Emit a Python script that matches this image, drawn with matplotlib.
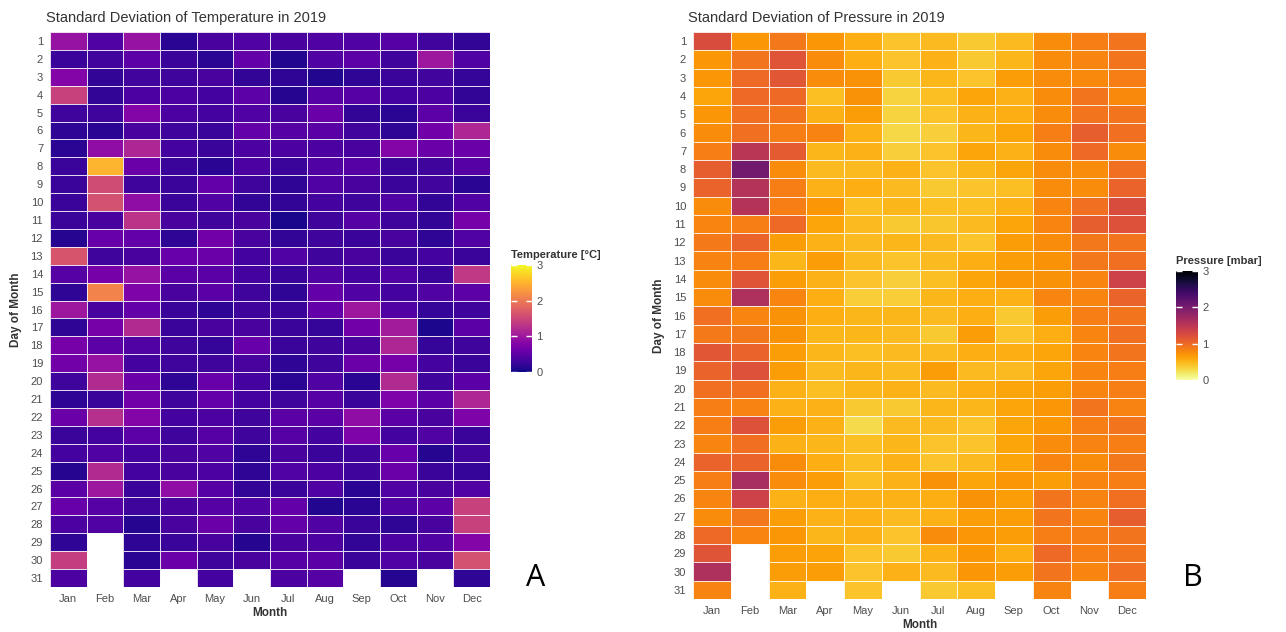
import numpy as np
import matplotlib
matplotlib.use("Agg")
import matplotlib.pyplot as plt

plt.rcParams['font.family'] = ['Liberation Sans', 'DejaVu Sans']

months = ['Jan', 'Feb', 'Mar', 'Apr', 'May', 'Jun', 'Jul', 'Aug', 'Sep', 'Oct', 'Nov', 'Dec']
days = list(range(1, 32))
nan = np.nan

# std dev of temperature [°C], one row per day of month (Jan..Dec)
temp_sd = [
    [0.95, 0.40, 0.95, 0.15, 0.35, 0.40, 0.35, 0.40, 0.40, 0.45, 0.30, 0.20],
    [0.25, 0.30, 0.50, 0.25, 0.15, 0.55, 0.10, 0.40, 0.50, 0.28, 1.00, 0.40],
    [0.80, 0.20, 0.30, 0.28, 0.35, 0.20, 0.18, 0.10, 0.18, 0.25, 0.30, 0.22],
    [1.45, 0.20, 0.38, 0.38, 0.32, 0.50, 0.12, 0.45, 0.45, 0.32, 0.38, 0.20],
    [0.28, 0.28, 0.80, 0.38, 0.32, 0.40, 0.35, 0.60, 0.20, 0.15, 0.50, 0.25],
    [0.18, 0.15, 0.35, 0.28, 0.25, 0.55, 0.45, 0.48, 0.30, 0.18, 0.65, 1.15],
    [0.15, 0.90, 1.15, 0.32, 0.25, 0.38, 0.38, 0.38, 0.35, 0.80, 0.60, 0.60],
    [0.25, 2.50, 0.60, 0.25, 0.15, 0.38, 0.25, 0.42, 0.45, 0.25, 0.28, 0.45],
    [0.25, 1.55, 0.28, 0.25, 0.55, 0.28, 0.18, 0.40, 0.35, 0.25, 0.30, 0.15],
    [0.25, 1.60, 0.90, 0.25, 0.40, 0.20, 0.20, 0.32, 0.28, 0.42, 0.20, 0.40],
    [0.25, 0.35, 1.30, 0.35, 0.28, 0.35, 0.05, 0.28, 0.45, 0.28, 0.20, 0.70],
    [0.12, 0.58, 0.55, 0.18, 0.65, 0.35, 0.20, 0.28, 0.25, 0.35, 0.18, 0.40],
    [1.65, 0.28, 0.35, 0.58, 0.60, 0.32, 0.40, 0.28, 0.35, 0.25, 0.32, 0.25],
    [0.45, 0.70, 0.95, 0.48, 0.48, 0.32, 0.25, 0.40, 0.32, 0.40, 0.25, 1.35],
    [0.18, 2.10, 0.75, 0.35, 0.48, 0.28, 0.18, 0.55, 0.42, 0.32, 0.40, 0.50],
    [1.00, 0.35, 0.55, 0.25, 0.18, 0.28, 0.25, 0.55, 1.00, 0.40, 0.22, 0.28],
    [0.18, 0.70, 1.20, 0.25, 0.35, 0.35, 0.25, 0.22, 0.65, 1.05, 0.08, 0.48],
    [0.70, 0.50, 0.42, 0.28, 0.22, 0.58, 0.25, 0.28, 0.35, 1.15, 0.22, 0.28],
    [0.65, 0.95, 0.32, 0.28, 0.28, 0.35, 0.18, 0.28, 0.60, 0.70, 0.32, 0.25],
    [0.28, 1.20, 0.60, 0.18, 0.58, 0.32, 0.15, 0.42, 0.15, 1.20, 0.28, 0.48],
    [0.18, 0.25, 0.65, 0.28, 0.55, 0.32, 0.28, 0.45, 0.25, 0.75, 0.48, 1.15],
    [0.60, 1.25, 0.80, 0.32, 0.38, 0.28, 0.48, 0.48, 0.90, 0.48, 0.35, 0.75],
    [0.25, 0.32, 0.50, 0.28, 0.45, 0.28, 0.45, 0.32, 0.75, 0.32, 0.40, 0.25],
    [0.32, 0.40, 0.32, 0.35, 0.42, 0.18, 0.35, 0.25, 0.28, 0.58, 0.12, 0.30],
    [0.12, 1.20, 0.32, 0.35, 0.38, 0.18, 0.42, 0.38, 0.28, 0.60, 0.25, 0.22],
    [0.48, 1.00, 0.25, 0.90, 0.45, 0.20, 0.25, 0.40, 0.15, 0.42, 0.35, 0.42],
    [0.58, 0.45, 0.28, 0.35, 0.45, 0.42, 0.55, 0.10, 0.15, 0.42, 0.50, 1.45],
    [0.38, 0.42, 0.12, 0.35, 0.60, 0.35, 0.55, 0.40, 0.25, 0.18, 0.35, 1.45],
    [0.18, nan, 0.18, 0.25, 0.35, 0.12, 0.35, 0.38, 0.20, 0.38, 0.40, 0.80],
    [1.40, nan, 0.15, 0.60, 0.28, 0.35, 0.45, 0.48, 0.25, 0.42, 0.35, 1.60],
    [0.38, nan, 0.32, nan, 0.32, nan, 0.38, 0.45, nan, 0.12, nan, 0.18],
]

# std dev of pressure [mbar]
pres_sd = [
    [1.25, 0.70, 0.90, 0.68, 0.55, 0.42, 0.48, 0.38, 0.48, 0.75, 0.85, 0.92],
    [0.68, 0.92, 1.18, 0.75, 0.55, 0.42, 0.52, 0.38, 0.50, 0.75, 0.80, 0.92],
    [0.68, 1.00, 1.15, 0.75, 0.72, 0.38, 0.50, 0.42, 0.65, 0.75, 0.78, 0.85],
    [0.60, 1.00, 1.00, 0.45, 0.72, 0.32, 0.45, 0.60, 0.52, 0.75, 0.92, 0.78],
    [0.68, 0.95, 0.92, 0.52, 0.65, 0.32, 0.42, 0.52, 0.55, 0.75, 0.92, 0.92],
    [0.75, 0.95, 0.85, 0.82, 0.52, 0.30, 0.35, 0.50, 0.60, 0.85, 1.08, 0.95],
    [0.85, 1.50, 1.12, 0.50, 0.52, 0.35, 0.42, 0.60, 0.52, 0.75, 1.00, 0.75],
    [1.08, 2.05, 0.75, 0.48, 0.48, 0.52, 0.42, 0.50, 0.60, 0.75, 0.75, 0.95],
    [1.05, 1.55, 0.85, 0.52, 0.55, 0.48, 0.38, 0.42, 0.45, 0.75, 0.75, 1.05],
    [0.75, 1.55, 0.85, 0.68, 0.45, 0.50, 0.45, 0.45, 0.52, 0.80, 0.95, 1.25],
    [0.80, 0.85, 1.00, 0.60, 0.48, 0.38, 0.40, 0.48, 0.60, 0.80, 1.08, 1.20],
    [0.88, 1.05, 0.65, 0.52, 0.48, 0.50, 0.48, 0.42, 0.65, 0.75, 0.90, 0.92],
    [0.82, 0.85, 0.50, 0.65, 0.48, 0.42, 0.48, 0.55, 0.65, 0.72, 0.90, 0.95],
    [0.75, 1.18, 0.65, 0.52, 0.42, 0.35, 0.45, 0.60, 0.68, 0.72, 0.80, 1.35],
    [0.75, 1.60, 0.80, 0.55, 0.36, 0.36, 0.50, 0.55, 0.52, 0.80, 0.80, 1.05],
    [0.95, 0.80, 0.72, 0.55, 0.50, 0.50, 0.48, 0.55, 0.38, 0.65, 0.85, 0.92],
    [0.88, 0.90, 0.72, 0.50, 0.50, 0.48, 0.38, 0.65, 0.42, 0.55, 0.80, 0.95],
    [1.15, 1.05, 0.65, 0.50, 0.45, 0.48, 0.48, 0.55, 0.55, 0.60, 0.80, 0.92],
    [1.05, 1.20, 0.65, 0.48, 0.50, 0.48, 0.65, 0.48, 0.48, 0.60, 0.80, 0.85],
    [0.95, 0.95, 0.52, 0.45, 0.50, 0.52, 0.48, 0.55, 0.60, 0.65, 0.80, 0.85],
    [0.85, 0.82, 0.52, 0.52, 0.38, 0.38, 0.50, 0.50, 0.60, 0.70, 0.92, 0.82],
    [0.85, 1.20, 0.65, 0.52, 0.28, 0.48, 0.48, 0.42, 0.60, 0.70, 0.85, 0.92],
    [0.80, 0.95, 0.52, 0.50, 0.45, 0.50, 0.42, 0.42, 0.60, 0.75, 0.82, 0.85],
    [1.05, 1.05, 0.75, 0.55, 0.45, 0.52, 0.42, 0.48, 0.60, 0.80, 0.75, 0.90],
    [0.85, 1.65, 0.75, 0.65, 0.45, 0.52, 0.72, 0.60, 0.70, 0.65, 0.80, 0.85],
    [0.80, 1.35, 0.52, 0.55, 0.52, 0.52, 0.55, 0.72, 0.65, 0.92, 0.82, 0.95],
    [0.75, 0.90, 0.65, 0.52, 0.52, 0.48, 0.52, 0.65, 0.65, 0.92, 0.80, 1.08],
    [1.00, 0.80, 0.68, 0.50, 0.52, 0.42, 0.75, 0.70, 0.65, 0.85, 0.85, 0.92],
    [1.18, nan, 0.65, 0.62, 0.42, 0.38, 0.52, 0.70, 0.55, 1.00, 0.85, 0.92],
    [1.60, nan, 0.65, 0.65, 0.42, 0.52, 0.48, 0.70, 0.65, 0.92, 0.80, 0.95],
    [0.82, nan, 0.52, nan, 0.42, nan, 0.38, 0.45, nan, 0.82, nan, 0.85],
]

fig = plt.figure(figsize=(12.86, 6.32), dpi=100)
W, H = 1286, 632
grey = '#4d4d4d'


def heatmap(rect, data, cmap, title, cb_rect, cb_title, letter, letter_xy):
    ax = fig.add_axes([rect[0] / W, 1 - rect[3] / H, (rect[2] - rect[0]) / W, (rect[3] - rect[1]) / H])
    vals = np.ma.masked_invalid(np.array(data, dtype=float))
    mesh = ax.pcolormesh(np.arange(13), np.arange(32), vals, cmap=cmap, vmin=0, vmax=3,
                         edgecolor=(1, 1, 1, 0.85), linewidth=0.6)
    ax.set_xlim(0, 12)
    ax.set_ylim(31, 0)
    ax.set_xticks(np.arange(12) + 0.5)
    ax.set_xticklabels(months)
    ax.set_yticks(np.arange(31) + 0.5)
    ax.set_yticklabels(days)
    ax.tick_params(length=0, labelsize=8, labelcolor=grey, pad=5)
    for s in ax.spines.values():
        s.set_visible(False)
    ax.set_xlabel('Month', fontsize=8.5, fontweight='bold', color='#333333', labelpad=2)
    ax.set_ylabel('Day of Month', fontsize=8.5, fontweight='bold', color='#333333', labelpad=6)
    ax.set_title(title, loc='left', fontsize=10.5, color='#333333', x=-0.01, pad=7)

    cax = fig.add_axes([cb_rect[0] / W, 1 - cb_rect[3] / H, (cb_rect[2] - cb_rect[0]) / W,
                        (cb_rect[3] - cb_rect[1]) / H])
    cb = fig.colorbar(mesh, cax=cax, ticks=[0, 1, 2, 3])
    cb.outline.set_visible(False)
    cax.tick_params(color='white', length=4, width=1, direction='in', left=True, right=True,
                    labelsize=8, labelcolor=grey, pad=3)
    cax.set_title(cb_title, loc='left', fontsize=8, fontweight='bold', color='#333333', pad=5)
    fig.text(letter_xy[0] / W, 1 - letter_xy[1] / H, letter, fontsize=22, ha='center', va='center',
             family=['Open Sans', 'DejaVu Sans'])
    return ax


heatmap((50, 32, 490, 587), temp_sd, 'plasma', 'Standard Deviation of Temperature in 2019',
        (511, 265, 532, 372), 'Temperature [°C]', 'A', (536, 578))
heatmap((693, 32, 1146, 599), pres_sd, 'inferno_r', 'Standard Deviation of Pressure in 2019',
        (1176, 271, 1198, 380), 'Pressure [mbar]', 'B', (1193, 578))

fig.savefig('out.png', dpi=100)
